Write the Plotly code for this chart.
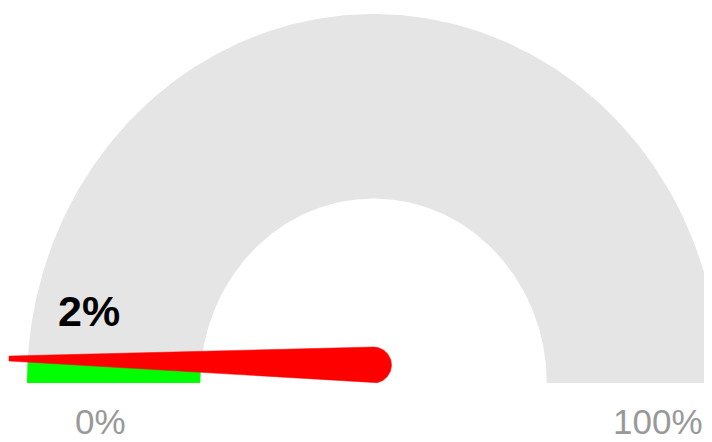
import numpy as np
import plotly.graph_objects as go

# ---- data ----
value = 2
gauge_min = 0
gauge_max = 100
value_label = "2%"
min_label = "0%"
max_label = "100%"

# ---- geometry (layout constants) ----
OFF = 8                        # page body margin
W, H = 712 - OFF, 442 - OFF
CX_PX, CY_PX = 373.5 - OFF, 383.0 - OFF   # gauge centre in plot pixels
SX, SY = 346.5, 369.0          # pixels per data unit (outer radius = 1)
R_OUT, R_IN = 1.0, 0.5
NEEDLE_LEN = 1.054
NEEDLE_BASE_R = 18.0           # px
NEEDLE_TIP_HW = 2.5            # px
NEEDLE_BASE_DY = 18.0          # px above gauge centre


def px_x(p):
    return (p - OFF - CX_PX) / SX


def px_y(p):
    return (CY_PX - (p - OFF)) / SY


def angle(v):
    return np.pi * (1 - (v - gauge_min) / (gauge_max - gauge_min))


def band(v0, v1, n=240):
    t = np.linspace(angle(v0), angle(v1), n)
    xo, yo = R_OUT * np.cos(t), R_OUT * np.sin(t)
    xi, yi = R_IN * np.cos(t[::-1]), R_IN * np.sin(t[::-1])
    return np.r_[xo, xi, xo[0]], np.r_[yo, yi, yo[0]]


def needle(v):
    th = angle(v)
    tip = np.array([NEEDLE_LEN * np.cos(th) * SX, NEEDLE_LEN * np.sin(th) * SY])
    base = np.array([0.0, NEEDLE_BASE_DY])
    d = tip - base
    u = d / np.hypot(*d)
    nrm = np.array([-u[1], u[0]])
    au = np.arctan2(u[1], u[0])
    phi = np.linspace(au + np.pi / 2, au + 3 * np.pi / 2, 60)
    arc = np.c_[base[0] + NEEDLE_BASE_R * np.cos(phi), base[1] + NEEDLE_BASE_R * np.sin(phi)]
    pts = np.vstack([tip + nrm * NEEDLE_TIP_HW, arc, tip - nrm * NEEDLE_TIP_HW, tip + nrm * NEEDLE_TIP_HW])
    return pts[:, 0] / SX, pts[:, 1] / SY


fig = go.Figure()

bx, by = band(gauge_min, gauge_max)
fig.add_trace(go.Scatter(x=bx, y=by, fill="toself", fillcolor="#e5e5e5",
                         mode="lines", line=dict(width=0, color="#e5e5e5"), hoverinfo="skip"))

gx, gy = band(gauge_min, value)
fig.add_trace(go.Scatter(x=gx, y=gy, fill="toself", fillcolor="#00ff00",
                         mode="lines", line=dict(width=0, color="#00ff00"), hoverinfo="skip"))

nx, ny = needle(value)
fig.add_trace(go.Scatter(x=nx, y=ny, fill="toself", fillcolor="#ff0000",
                         mode="lines", line=dict(width=0.5, color="#ff0000"), hoverinfo="skip"))

fig.add_annotation(x=px_x(88.5), y=px_y(311), text=f"<b>{value_label}</b>",
                   showarrow=False, xanchor="center", yanchor="middle",
                   font=dict(family="Liberation Sans, Arial, sans-serif", size=43, color="#000000"))
fig.add_annotation(x=px_x(100), y=px_y(421), text=min_label,
                   showarrow=False, xanchor="center", yanchor="middle",
                   font=dict(family="Liberation Sans, Arial, sans-serif", size=35, color="#999999"))
fig.add_annotation(x=px_x(657.5), y=px_y(421), text=max_label,
                   showarrow=False, xanchor="center", yanchor="middle",
                   font=dict(family="Liberation Sans, Arial, sans-serif", size=35, color="#999999"))

fig.update_layout(
    width=W, height=H, margin=dict(l=0, r=0, t=0, b=0),
    paper_bgcolor="white", plot_bgcolor="white", showlegend=False,
    xaxis=dict(range=[-CX_PX / SX, (W - CX_PX) / SX], visible=False, fixedrange=True),
    yaxis=dict(range=[(CY_PX - H) / SY, CY_PX / SY], visible=False, fixedrange=True),
)

fig.write_html("out.html")
